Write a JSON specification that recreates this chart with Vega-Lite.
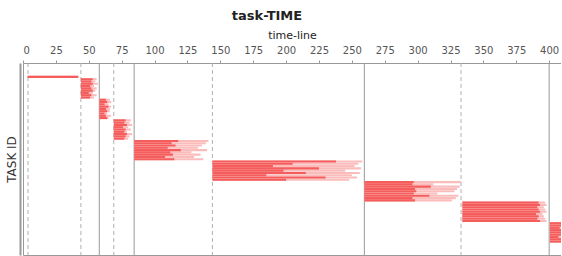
{
  "$schema": "https://vega.github.io/schema/vega-lite/v6.json",
  "width": 538,
  "height": 192,
  "padding": {"left": 5, "top": 10, "right": 0, "bottom": 0},
  "background": "white",
  "config": {
    "view": {"stroke": "#999999", "strokeWidth": 1},
    "font": "DejaVu Sans"
  },
  "title": {
    "text": "task-TIME",
    "fontSize": 13,
    "fontWeight": "bold",
    "color": "#222222",
    "offset": 6,
    "dx": -25,
    "font": "DejaVu Sans"
  },
  "datasets": {
    "tasks": [
      {"id": 1, "stage": 1, "start": 3.5, "mid": 42, "end": 42},
      {"id": 2, "stage": 2, "start": 44, "mid": 53, "end": 56},
      {"id": 3, "stage": 2, "start": 44, "mid": 52, "end": 55},
      {"id": 4, "stage": 2, "start": 44, "mid": 53, "end": 57},
      {"id": 5, "stage": 2, "start": 44, "mid": 51, "end": 54},
      {"id": 6, "stage": 2, "start": 44, "mid": 52, "end": 56},
      {"id": 7, "stage": 2, "start": 44, "mid": 53, "end": 55},
      {"id": 8, "stage": 2, "start": 44, "mid": 50, "end": 53},
      {"id": 9, "stage": 2, "start": 44, "mid": 52, "end": 56},
      {"id": 10, "stage": 2, "start": 44, "mid": 51, "end": 54},
      {"id": 11, "stage": 3, "start": 58, "mid": 63, "end": 66},
      {"id": 12, "stage": 3, "start": 58, "mid": 64, "end": 67},
      {"id": 13, "stage": 3, "start": 58, "mid": 62, "end": 65},
      {"id": 14, "stage": 3, "start": 58, "mid": 65, "end": 67},
      {"id": 15, "stage": 3, "start": 58, "mid": 63, "end": 66},
      {"id": 16, "stage": 3, "start": 58, "mid": 64, "end": 66},
      {"id": 17, "stage": 3, "start": 58, "mid": 62, "end": 64},
      {"id": 18, "stage": 3, "start": 58, "mid": 63, "end": 67},
      {"id": 19, "stage": 3, "start": 58, "mid": 64, "end": 65},
      {"id": 20, "stage": 4, "start": 69, "mid": 78, "end": 82},
      {"id": 21, "stage": 4, "start": 69, "mid": 77, "end": 81},
      {"id": 22, "stage": 4, "start": 69, "mid": 79, "end": 83},
      {"id": 23, "stage": 4, "start": 69, "mid": 76, "end": 80},
      {"id": 24, "stage": 4, "start": 69, "mid": 78, "end": 82},
      {"id": 25, "stage": 4, "start": 69, "mid": 77, "end": 79},
      {"id": 26, "stage": 4, "start": 69, "mid": 79, "end": 83},
      {"id": 27, "stage": 4, "start": 69, "mid": 78, "end": 81},
      {"id": 28, "stage": 4, "start": 69, "mid": 77, "end": 80},
      {"id": 29, "stage": 5, "start": 84.5, "mid": 118, "end": 141},
      {"id": 30, "stage": 5, "start": 84.5, "mid": 113, "end": 139},
      {"id": 31, "stage": 5, "start": 84.5, "mid": 116, "end": 136},
      {"id": 32, "stage": 5, "start": 84.5, "mid": 110, "end": 133},
      {"id": 33, "stage": 5, "start": 84.5, "mid": 120, "end": 140},
      {"id": 34, "stage": 5, "start": 84.5, "mid": 112, "end": 128},
      {"id": 35, "stage": 5, "start": 84.5, "mid": 114, "end": 135},
      {"id": 36, "stage": 5, "start": 84.5, "mid": 108, "end": 130},
      {"id": 37, "stage": 5, "start": 84.5, "mid": 115, "end": 137},
      {"id": 38, "stage": 6, "start": 144, "mid": 238, "end": 258},
      {"id": 39, "stage": 6, "start": 144, "mid": 205, "end": 255},
      {"id": 40, "stage": 6, "start": 144, "mid": 190, "end": 252},
      {"id": 41, "stage": 6, "start": 144, "mid": 225, "end": 257},
      {"id": 42, "stage": 6, "start": 144, "mid": 198, "end": 245},
      {"id": 43, "stage": 6, "start": 144, "mid": 215, "end": 256},
      {"id": 44, "stage": 6, "start": 144, "mid": 185, "end": 250},
      {"id": 45, "stage": 6, "start": 144, "mid": 230, "end": 254},
      {"id": 46, "stage": 6, "start": 144, "mid": 200, "end": 248},
      {"id": 47, "stage": 7, "start": 259.5, "mid": 297, "end": 333},
      {"id": 48, "stage": 7, "start": 259.5, "mid": 296, "end": 312},
      {"id": 49, "stage": 7, "start": 259.5, "mid": 310, "end": 332},
      {"id": 50, "stage": 7, "start": 259.5, "mid": 298, "end": 330},
      {"id": 51, "stage": 7, "start": 259.5, "mid": 299, "end": 328},
      {"id": 52, "stage": 7, "start": 259.5, "mid": 297, "end": 315},
      {"id": 53, "stage": 7, "start": 259.5, "mid": 309, "end": 331},
      {"id": 54, "stage": 7, "start": 259.5, "mid": 296, "end": 329},
      {"id": 55, "stage": 7, "start": 259.5, "mid": 298, "end": 326},
      {"id": 56, "stage": 8, "start": 334, "mid": 392, "end": 397},
      {"id": 57, "stage": 8, "start": 334, "mid": 393, "end": 398},
      {"id": 58, "stage": 8, "start": 334, "mid": 391, "end": 396},
      {"id": 59, "stage": 8, "start": 334, "mid": 392, "end": 397},
      {"id": 60, "stage": 8, "start": 334, "mid": 393, "end": 398},
      {"id": 61, "stage": 8, "start": 334, "mid": 390, "end": 395},
      {"id": 62, "stage": 8, "start": 334, "mid": 392, "end": 396},
      {"id": 63, "stage": 8, "start": 334, "mid": 391, "end": 397},
      {"id": 64, "stage": 8, "start": 334, "mid": 393, "end": 398},
      {"id": 65, "stage": 9, "start": 400.5, "mid": 412, "end": 415},
      {"id": 66, "stage": 9, "start": 400.5, "mid": 410, "end": 414},
      {"id": 67, "stage": 9, "start": 400.5, "mid": 408, "end": 413},
      {"id": 68, "stage": 9, "start": 400.5, "mid": 411, "end": 415},
      {"id": 69, "stage": 9, "start": 400.5, "mid": 409, "end": 412},
      {"id": 70, "stage": 9, "start": 400.5, "mid": 412, "end": 415},
      {"id": 71, "stage": 9, "start": 400.5, "mid": 407, "end": 411},
      {"id": 72, "stage": 9, "start": 400.5, "mid": 410, "end": 414},
      {"id": 73, "stage": 9, "start": 400.5, "mid": 409, "end": 413}
    ],
    "lines": [
      {"pos": 3.8, "kind": "start"},
      {"pos": 44, "kind": "start"},
      {"pos": 58, "kind": "end"},
      {"pos": 69, "kind": "start"},
      {"pos": 84.5, "kind": "end"},
      {"pos": 144, "kind": "start"},
      {"pos": 259.5, "kind": "end"},
      {"pos": 333, "kind": "start"},
      {"pos": 400, "kind": "end"}
    ]
  },
  "encoding": {
    "x": {
      "type": "quantitative",
      "scale": {"domain": [0, 409], "nice": false, "zero": false},
      "axis": {
        "orient": "top",
        "title": "time-line",
        "titleFontSize": 11,
        "titleFontWeight": "normal",
        "titleColor": "#222222",
        "titlePadding": 5,
        "values": [0, 25, 50, 75, 100, 125, 150, 175, 200, 225, 250, 275, 300, 325, 350, 375, 400],
        "labelFontSize": 10,
        "labelColor": "#555555",
        "labelPadding": 5,
        "tickSize": 3,
        "tickColor": "#999999",
        "domain": false,
        "grid": false
      }
    }
  },
  "layer": [
    {
      "data": {"name": "lines"},
      "mark": {"type": "rule", "strokeWidth": 1},
      "encoding": {
        "x": {"field": "pos", "type": "quantitative"},
        "strokeDash": {
          "field": "kind",
          "type": "nominal",
          "scale": {"domain": ["start", "end"], "range": [[4, 3], [1, 0]]},
          "legend": null
        },
        "color": {
          "field": "kind",
          "type": "nominal",
          "scale": {"domain": ["start", "end"], "range": ["#b0b0b0", "#999999"]},
          "legend": null
        }
      }
    },
    {
      "data": {"name": "tasks"},
      "mark": {"type": "bar", "color": "#fbbcbc", "clip": true, "height": 2.1, "orient": "horizontal"},
      "encoding": {
        "x": {"field": "start", "type": "quantitative"},
        "x2": {"field": "end"},
        "y": {
          "field": "id",
          "type": "quantitative",
          "scale": {"domain": [-2.9, 76.7], "nice": false, "zero": false, "reverse": true},
          "axis": {
            "title": "TASK ID",
            "labels": false,
            "ticks": false,
            "grid": false,
            "domain": true,
            "domainColor": "#999999",
            "domainWidth": 2,
            "offset": 3,
            "titleFontSize": 12,
            "titleFontWeight": "normal",
            "titleColor": "#333333",
            "titlePadding": 2
          }
        }
      }
    },
    {
      "data": {"name": "tasks"},
      "mark": {"type": "bar", "color": "#f55c5c", "clip": true, "height": 2.1, "orient": "horizontal"},
      "encoding": {
        "x": {"field": "start", "type": "quantitative"},
        "x2": {"field": "mid"},
        "y": {"field": "id", "type": "quantitative"}
      }
    }
  ]
}
